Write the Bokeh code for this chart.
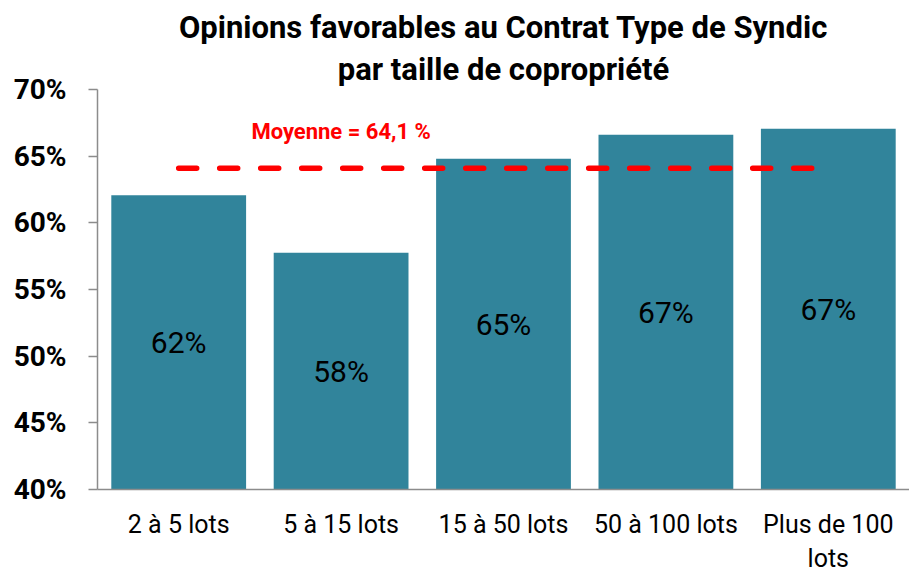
from bokeh.plotting import figure
from bokeh.models import Range1d, Title, FixedTicker, ColumnDataSource, LabelSet
from bokeh.core.properties import value
from bokeh.embed import file_html
from bokeh.resources import INLINE

categories = ["2 à 5 lots", "5 à 15 lots", "15 à 50 lots", "50 à 100 lots", "Plus de 100\nlots"]
values = [62.07, 57.75, 64.8, 66.6, 67.05]
mean_value = 64.1
mean_text = "Moyenne = 64,1 %"
y_ticks = [40, 45, 50, 55, 60, 65, 70]
y_tick_labels = ["40%", "45%", "50%", "55%", "60%", "65%", "70%"]
title_line1 = "Opinions favorables au Contrat Type de Syndic"
title_line2 = "par taille de copropriété"

FONT = "Roboto"
BAR = "#31849B"

p = figure(width=909, height=576, x_range=categories, y_range=Range1d(40, 70),
           output_backend="svg", toolbar_location=None, title=None,
           min_border_left=97, min_border_right=0, min_border_top=89, min_border_bottom=86)
p.outline_line_color = None
p.xgrid.grid_line_color = None
p.ygrid.grid_line_color = None

t2 = Title(text=title_line2, align="center", text_font=FONT, text_font_size="31px",
           text_font_style="bold", text_color="black", standoff=3)
t1 = Title(text=title_line1, align="center", text_font=FONT, text_font_size="31px",
           text_font_style="bold", text_color="black", standoff=3)
p.add_layout(t2, "above")
p.add_layout(t1, "above")

src = ColumnDataSource(dict(
    x=categories,
    top=values,
    mid=[(40 + v) / 2 for v in values],
    lab=[f"{round(v)}%" for v in values],
))
p.vbar(x="x", top="top", bottom=40, width=0.83, source=src, fill_color=BAR, line_color=None)

p.add_layout(LabelSet(x="x", y="mid", text="lab", source=src, text_align="center",
                      text_baseline="middle", text_font=value(FONT), text_font_size=value("30px"),
                      text_color="black"))

p.line(x=[categories[0], categories[-1]], y=[mean_value, mean_value], line_color="#FF0000",
       line_width=5.5, line_dash="18 23", line_cap="round")
msrc = ColumnDataSource(dict(x=[categories[1]], y=[mean_value + 2.75], t=[mean_text]))
p.add_layout(LabelSet(x="x", y="y", text="t", source=msrc, text_align="center",
                      text_baseline="middle", text_font=value(FONT), text_font_size=value("22px"),
                      text_font_style="bold", text_color="#FF0000"))

ya = p.yaxis[0]
ya.ticker = FixedTicker(ticks=y_ticks)
ya.major_label_overrides = {t: l for t, l in zip(y_ticks, y_tick_labels)}
ya.minor_tick_line_color = None
ya.major_tick_out = 9
ya.major_tick_in = 0
ya.major_label_standoff = 22
ya.axis_line_color = "#8C8C8C"
ya.axis_line_width = 1.5
ya.major_tick_line_color = "#8C8C8C"
ya.major_tick_line_width = 1.5
ya.major_label_text_font = FONT
ya.major_label_text_font_size = "28px"
ya.major_label_text_font_style = "bold"
ya.major_label_text_color = "black"

xa = p.xaxis[0]
xa.major_tick_out = 0
xa.major_tick_in = 0
xa.minor_tick_line_color = None
xa.major_label_standoff = 20
xa.axis_line_color = "#8C8C8C"
xa.axis_line_width = 1.5
xa.major_label_text_font = FONT
xa.major_label_text_font_size = "25px"
xa.major_label_text_color = "black"
xa.major_label_text_line_height = 1.2

open("out.html", "w").write(file_html(p, INLINE))
